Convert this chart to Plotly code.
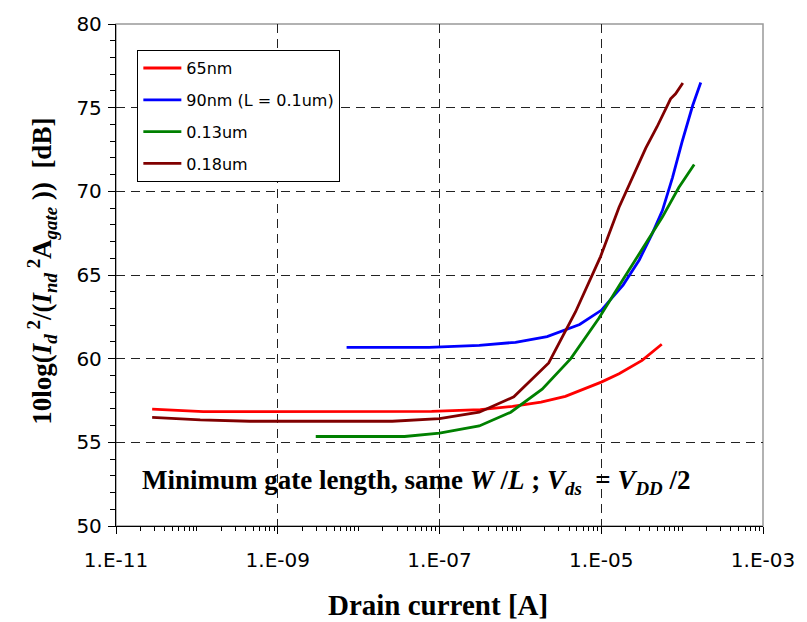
import plotly.graph_objects as go

# Drain current [A] and normalized noise [dB] for each technology node
cur_65 = [2.8e-11, 1.2e-10, 5e-10, 2e-9, 8e-9, 3.2e-8, 8e-8, 3.2e-7, 8e-7,
          1.8e-6, 3.6e-6, 1e-5, 1.66e-5, 3.2e-5, 5.6e-5]
db_65 = [56.99, 56.83, 56.83, 56.83, 56.83, 56.83, 56.85, 56.95, 57.15,
         57.4, 57.75, 58.6, 59.1, 59.9, 60.86]

cur_90 = [7.1e-9, 7.4e-8, 3.1e-7, 8.7e-7, 2.14e-6, 5.4e-6, 1e-5, 1.86e-5,
          2.95e-5, 4.27e-5, 5.7e-5, 7.6e-5, 1e-4, 1.35e-4, 1.7e-4]
db_90 = [60.68, 60.67, 60.79, 60.98, 61.32, 62.04, 62.89, 64.4,
         65.9, 67.47, 68.85, 70.82, 72.97, 75.13, 76.5]

cur_130 = [2.95e-9, 3.7e-8, 1e-7, 3.1e-7, 7.6e-7, 1.86e-6, 4.2e-6, 9.3e-6,
           1.9e-5, 3.55e-5, 5.7e-5, 9.1e-5, 1.41e-4]
db_130 = [55.35, 55.35, 55.55, 55.98, 56.8, 58.18, 60.0, 62.4,
          64.8, 66.89, 68.46, 70.23, 71.6]

cur_180 = [2.8e-11, 1.1e-10, 4.5e-10, 2.6e-8, 1e-7, 3.1e-7, 8.3e-7, 2.24e-6,
           4.8e-6, 9.8e-6, 1.66e-5, 3.55e-5, 4.9e-5, 7.2e-5, 8.3e-5, 1.02e-4]
db_180 = [56.49, 56.34, 56.26, 56.26, 56.42, 56.8, 57.72, 59.74,
          62.79, 66.1, 69.05, 72.58, 73.86, 75.53, 75.83, 76.47]

series_names = ["65nm", "90nm (L = 0.1um)", "0.13um", "0.18um"]
series_colors = ["#FF0000", "#0000FF", "#008000", "#800000"]

x_tick_vals = [1e-11, 1e-9, 1e-7, 1e-5, 1e-3]
x_tick_text = ["1.E-11", "1.E-09", "1.E-07", "1.E-05", "1.E-03"]
y_tick_vals = [50, 55, 60, 65, 70, 75, 80]

# minor ticks: every 1..9 x 10^k inside the range
x_minor_vals = [m * 10.0 ** k for k in range(-11, -3) for m in range(1, 10)]

fig = go.Figure()
for xs, ys, name, color in zip(
        [cur_65, cur_90, cur_130, cur_180],
        [db_65, db_90, db_130, db_180],
        series_names, series_colors):
    fig.add_trace(go.Scatter(
        x=xs, y=ys, mode="lines", name=name, legendgroup=name,
        line=dict(color=color, width=2.8),
    ))

grid_dash = "9px,6px"
sans = "DejaVu Sans, Verdana, sans-serif"
axis_font = dict(family=sans, size=20, color="black")

fig.update_layout(
    width=807, height=622,
    margin=dict(l=116, r=43, t=17, b=96),
    paper_bgcolor="white", plot_bgcolor="white",
    showlegend=True,
    legend=dict(
        x=0.033, y=0.948, xanchor="left", yanchor="top",
        bgcolor="white", bordercolor="black", borderwidth=1,
        font=dict(family=sans, size=16, color="black"),
        tracegroupgap=8, itemwidth=38,
    ),
    xaxis=dict(
        type="log", range=[-11, -3],
        tickmode="array", tickvals=x_tick_vals, ticktext=x_tick_text,
        ticks="outside", ticklen=7, tickwidth=1, tickcolor="black",
        ticklabelstandoff=9,
        showline=True, linecolor="black", linewidth=1.3,
        showgrid=True, gridcolor="#222", gridwidth=1, griddash=grid_dash,
        minor=dict(tickmode="array", tickvals=x_minor_vals, ticks="outside",
                   ticklen=4, tickcolor="black", showgrid=False),
        tickfont=axis_font, zeroline=False,
    ),
    yaxis=dict(
        range=[50, 80],
        tickmode="array", tickvals=y_tick_vals,
        ticks="outside", ticklen=7, tickwidth=1, tickcolor="black",
        ticklabelstandoff=2,
        showline=True, linecolor="black", linewidth=1.3,
        showgrid=True, gridcolor="#222", gridwidth=1, griddash=grid_dash,
        minor=dict(dtick=1, ticks="outside", ticklen=5, tickcolor="black",
                   showgrid=False),
        tickfont=axis_font, zeroline=False,
    ),
)

# light frame around the plotting area
fig.add_shape(type="rect", xref="paper", yref="paper", x0=0, y0=0, x1=1, y1=1,
              line=dict(color="#999", width=1.5), layer="below")

serif = "Liberation Serif, Times New Roman, serif"

fig.add_annotation(
    xref="paper", yref="paper", x=(417 - 116) / 648, y=(526 - 481) / 509,
    xanchor="center", yanchor="middle", showarrow=False,
    text=("<b>Minimum gate length, same <i>W</i> /<i>L</i> ; "
          "<i>V<sub>ds</sub></i>  = <i>V<sub>DD</sub></i> /2</b>"),
    font=dict(family=serif, size=27, color="black"),
)

fig.add_annotation(
    xref="paper", yref="paper", x=(438 - 116) / 648, y=-(606 - 526) / 509,
    xanchor="center", yanchor="middle", showarrow=False,
    text="<b>Drain current [A]</b>",
    font=dict(family=serif, size=29, color="black"),
)

fig.add_annotation(
    xref="paper", yref="paper", x=-(116 - 41) / 648, y=(526 - 268) / 509,
    xanchor="center", yanchor="middle", showarrow=False, textangle=-90,
    text=("<b>10log(<i>I<sub>d</sub></i><sup> 2</sup>/(<i>I<sub>nd</sub></i>"
          "<sup> 2</sup>A<i><sub>gate</sub></i> ))  [dB]</b>"),
    font=dict(family=serif, size=27, color="black"),
)

fig.write_html("out.html")
